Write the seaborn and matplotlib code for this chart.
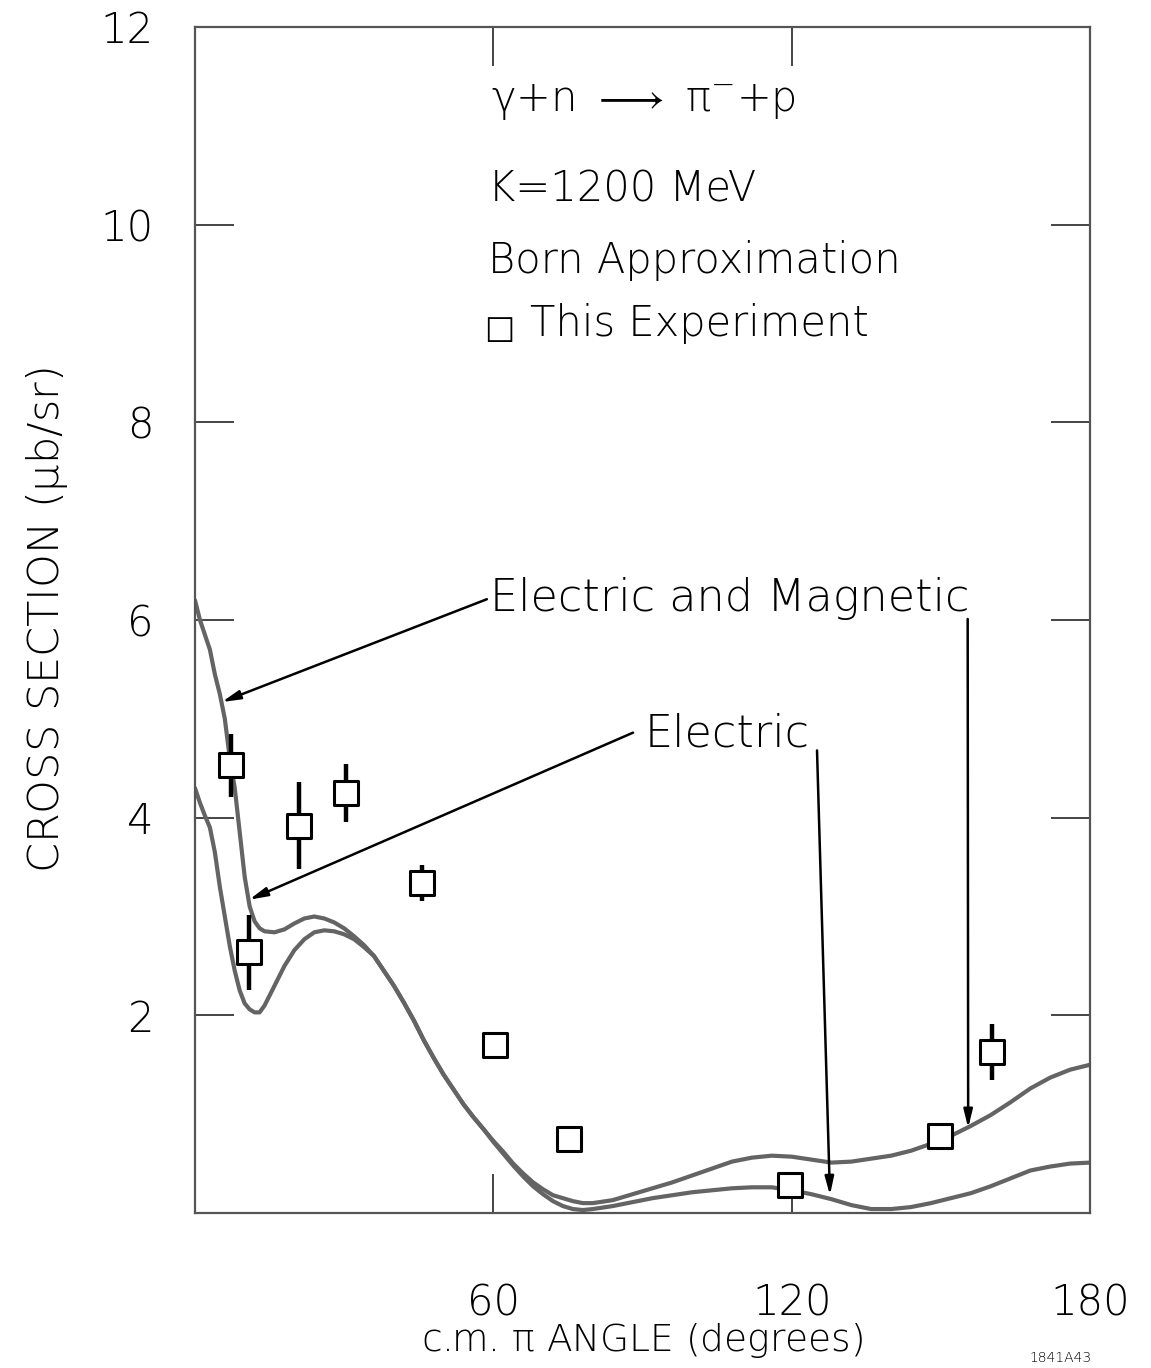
import numpy as np
import pandas as pd
import matplotlib
matplotlib.use("Agg")
import matplotlib.pyplot as plt
import seaborn as sns

# Born-approximation curves, gamma + n -> pi- + p at K = 1200 MeV
angle_em = [0, 1, 2, 3, 4, 5, 6, 7, 8, 9, 10, 11, 12, 13, 14, 16, 18, 20, 22, 24,
            26, 28, 30, 32, 34, 36, 38, 40, 42, 44, 46, 48, 50, 52, 54, 56, 58, 60,
            62, 64, 66, 68, 70, 72, 74, 76, 78, 80, 84, 88, 92, 96, 100, 104, 108,
            112, 116, 120, 124, 128, 132, 136, 140, 144, 148, 152, 156, 160, 164,
            168, 172, 176, 180]
sigma_em = [6.2, 6.0, 5.85, 5.7, 5.45, 5.25, 5.0, 4.6, 4.3, 3.85, 3.4, 3.1, 2.95,
            2.88, 2.85, 2.84, 2.87, 2.93, 2.98, 3.0, 2.98, 2.94, 2.88, 2.8, 2.71,
            2.6, 2.45, 2.3, 2.13, 1.95, 1.75, 1.57, 1.4, 1.25, 1.1, 0.97, 0.85,
            0.73, 0.62, 0.5, 0.4, 0.31, 0.24, 0.18, 0.15, 0.12, 0.1, 0.1, 0.13,
            0.19, 0.25, 0.31, 0.38, 0.45, 0.52, 0.56, 0.58, 0.57, 0.54, 0.51, 0.52,
            0.55, 0.58, 0.63, 0.7, 0.78, 0.88, 0.99, 1.12, 1.26, 1.37, 1.45, 1.5]

angle_e = [0, 1, 2, 3, 4, 5, 6, 7, 8, 9, 10, 11, 12, 13, 14, 16, 18, 20, 22, 24,
           26, 28, 30, 32, 34, 36, 38, 40, 42, 44, 46, 48, 50, 52, 54, 56, 58, 60,
           62, 64, 66, 68, 70, 72, 74, 76, 78, 80, 84, 88, 92, 96, 100, 104, 108,
           112, 116, 120, 124, 128, 132, 136, 140, 144, 148, 152, 156, 160, 164,
           168, 172, 176, 180]
sigma_e = [4.3, 4.15, 4.02, 3.9, 3.65, 3.3, 3.0, 2.7, 2.45, 2.25, 2.12, 2.06, 2.03,
           2.03, 2.1, 2.3, 2.5, 2.66, 2.77, 2.84, 2.86, 2.85, 2.82, 2.77, 2.69,
           2.6, 2.45, 2.3, 2.13, 1.95, 1.75, 1.57, 1.4, 1.25, 1.1, 0.97, 0.85,
           0.72, 0.6, 0.48, 0.37, 0.27, 0.19, 0.12, 0.07, 0.04, 0.03, 0.04, 0.07,
           0.11, 0.15, 0.18, 0.21, 0.23, 0.25, 0.26, 0.26, 0.23, 0.19, 0.14, 0.08,
           0.04, 0.04, 0.06, 0.10, 0.15, 0.2, 0.27, 0.35, 0.43, 0.47, 0.5, 0.51]

# Measured points (this experiment)
exp_angle = [7.2, 10.8, 20.9, 30.4, 45.6, 60.3, 75.3, 119.7, 149.8, 160.3]
exp_sigma = [4.53, 2.64, 3.92, 4.25, 3.34, 1.70, 0.75, 0.28, 0.78, 1.63]
exp_err = [0.32, 0.38, 0.44, 0.29, 0.18, 0.0, 0.0, 0.0, 0.0, 0.28]

x_ticks = [60, 120, 180]
x_ticklabels = ["60", "120", "180"]
y_ticks = [2, 4, 6, 8, 10, 12]
y_ticklabels = ["2", "4", "6", "8", "10", "12"]

sns.set_theme(style="white")
plt.rcParams["font.family"] = ["DejaVu Sans"]
plt.rcParams["font.weight"] = "light"
plt.rcParams["axes.labelweight"] = "light"
plt.rcParams["text.color"] = "black"
plt.rcParams["axes.labelcolor"] = "black"
plt.rcParams["mathtext.default"] = "regular"

fig = plt.figure(figsize=(11.51, 13.68), dpi=100)
ax = fig.add_axes([0.1694, 0.1133, 0.947 - 0.1694, 0.9803 - 0.1133])

curve_color = "#646464"
df_em = pd.DataFrame({"angle": angle_em, "sigma": sigma_em})
df_e = pd.DataFrame({"angle": angle_e, "sigma": sigma_e})
sns.lineplot(data=df_em, x="angle", y="sigma", ax=ax, color=curve_color, lw=3,
             sort=False, estimator=None, zorder=2)
sns.lineplot(data=df_e, x="angle", y="sigma", ax=ax, color=curve_color, lw=3,
             sort=False, estimator=None, zorder=2)

# error bars drawn beneath the open squares
for xa, ya, ea in zip(exp_angle, exp_sigma, exp_err):
    if ea > 0:
        ax.vlines(xa, ya - ea, ya + ea, color="black", lw=3.2, zorder=3)

df_exp = pd.DataFrame({"angle": exp_angle, "sigma": exp_sigma})
sns.scatterplot(data=df_exp, x="angle", y="sigma", ax=ax, marker="s", s=300,
                facecolor="white", edgecolor="black", linewidth=2.2, zorder=4)

ax.set_xlim(0, 180)
ax.set_ylim(0, 12)
ax.set_xticks(x_ticks)
ax.set_xticklabels(x_ticklabels)
ax.set_yticks(y_ticks)
ax.set_yticklabels(y_ticklabels)
ax.tick_params(axis="both", direction="in", length=28, width=1.4, color="#444444",
               top=True, right=True, bottom=True, left=True,
               labelsize=30, labelcolor="black")
ax.tick_params(axis="x", pad=50)
ax.tick_params(axis="y", pad=30)
for sp in ax.spines.values():
    sp.set_color("#555555")
    sp.set_linewidth(1.6)

ax.set_xlabel(r"c.m. $\pi$ ANGLE (degrees)", fontsize=27, labelpad=-2,
              fontweight="light")
ax.set_ylabel(r"CROSS SECTION ($\mu$b/sr)", fontsize=31, labelpad=22,
              fontweight="light")

# header block
ax.text(59.5, 11.15, r"$\gamma$+n $\longrightarrow$ $\pi^{-}$+p",
        fontsize=30, va="baseline", ha="left")
ax.text(59.0, 10.23, "K=1200 MeV", fontsize=30, va="baseline", ha="left")
ax.text(59.0, 9.51, "Born Approximation", fontsize=30, va="baseline", ha="left")
ax.text(58.2, 8.85, "\u25a1", fontsize=23, va="baseline", ha="left",
        fontweight="normal")
ax.text(67.4, 8.87, "This Experiment", fontsize=30, va="baseline", ha="left")

# curve labels with leader arrows
arrow_kw = dict(arrowstyle="-|>,head_length=0.9,head_width=0.22", lw=1.8,
                color="black", shrinkA=0, shrinkB=0)
ax.text(59.3, 6.09, "Electric and Magnetic", fontsize=32, va="baseline", ha="left")
ax.annotate("", xy=(5.4, 5.17), xytext=(58.7, 6.21), arrowprops=arrow_kw)
ax.annotate("", xy=(155.5, 0.86), xytext=(155.4, 6.01), arrowprops=arrow_kw)

ax.text(90.5, 4.72, "Electric", fontsize=32, va="baseline", ha="left")
ax.annotate("", xy=(10.9, 3.17), xytext=(88.1, 4.86), arrowprops=arrow_kw)
ax.annotate("", xy=(127.7, 0.18), xytext=(125.1, 4.68), arrowprops=arrow_kw)

fig.text(1030 / 1151, 1 - 1358 / 1368, "1841A43", fontsize=10, ha="left",
         va="center")

fig.savefig("out.png", dpi=100)
